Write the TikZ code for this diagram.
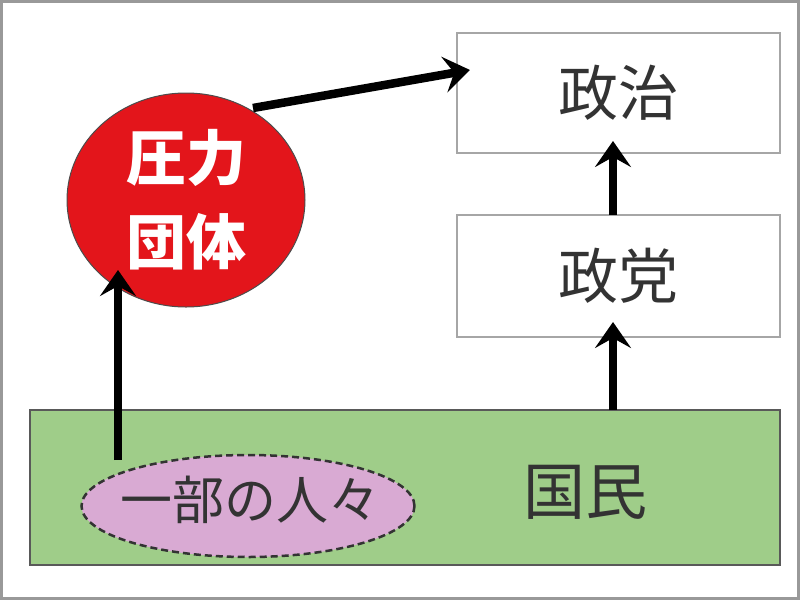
\documentclass[tikz,border=0pt]{standalone}
\usepackage{fontspec}
\newfontfamily\jp{Noto Sans CJK JP}
\usetikzlibrary{shapes.geometric,arrows.meta}
\definecolor{redc}{HTML}{E3151B}
\definecolor{greenc}{HTML}{9FCD89}
\definecolor{pinkc}{HTML}{D9AAD3}
\definecolor{txt}{HTML}{333333}
\tikzset{
  x=1pt,y=-1pt,
  box/.style={draw=gray!70,line width=2pt,fill=white,minimum width=323pt,inner sep=0pt,font=\jp\fontsize{60}{60}\selectfont,text=txt},
  arr/.style={line width=8.5pt,-{Stealth[length=26pt,width=36pt,inset=10pt]}},
}
\begin{document}
\begin{tikzpicture}
\useasboundingbox (0,0) rectangle (800,600);
\draw[gray!80,line width=3pt] (1.5,1.5) rectangle (798.5,598.5);
\node[box,minimum height=120pt] (seiji) at (618.5,93) {政治};
\node[box,minimum height=122pt] (seito) at (618.5,276) {政党};
\node[draw=black!65,line width=1.5pt,fill=greenc,minimum width=750pt,minimum height=155pt,inner sep=0pt] (kokumin) at (405,487.5) {};
\node[font=\jp\fontsize{62}{62}\selectfont,text=txt] (kokumintxt) at (585,492) {国民};
\node[ellipse,fill=redc,draw=black!70,line width=1pt,minimum width=238pt,minimum height=214pt,inner sep=0pt] (atsu) at (186,200) {};
\node[align=center,text=white,inner sep=0pt,font=\jp\bfseries\fontsize{60}{84}\selectfont] (atsutxt) at (atsu) {圧力\\団体};
\node[ellipse,fill=pinkc,draw=black!80,dashed,dash pattern=on 7pt off 4pt,line width=2.5pt,minimum width=333pt,minimum height=102pt,inner sep=0pt] (bu) at (248,506) {};
\node[text=txt,inner sep=0pt,font=\jp\fontsize{52}{52}\selectfont] (butxt) at (250,500) {一部の人々};
\coordinate (s1) at (118,460);
\coordinate (t1) at (118,270);
\coordinate (s2) at (613,410);
\coordinate (t2) at (613,322);
\coordinate (s3) at (613,215);
\coordinate (t3) at (613,141);
\coordinate (s4) at (253,108);
\coordinate (t4) at (470,70);
\draw[arr] (s1) -- (t1);
\draw[arr] (s2) -- (t2);
\draw[arr] (s3) -- (t3);
\draw[arr] (s4) -- (t4);
\end{tikzpicture}
\end{document}
